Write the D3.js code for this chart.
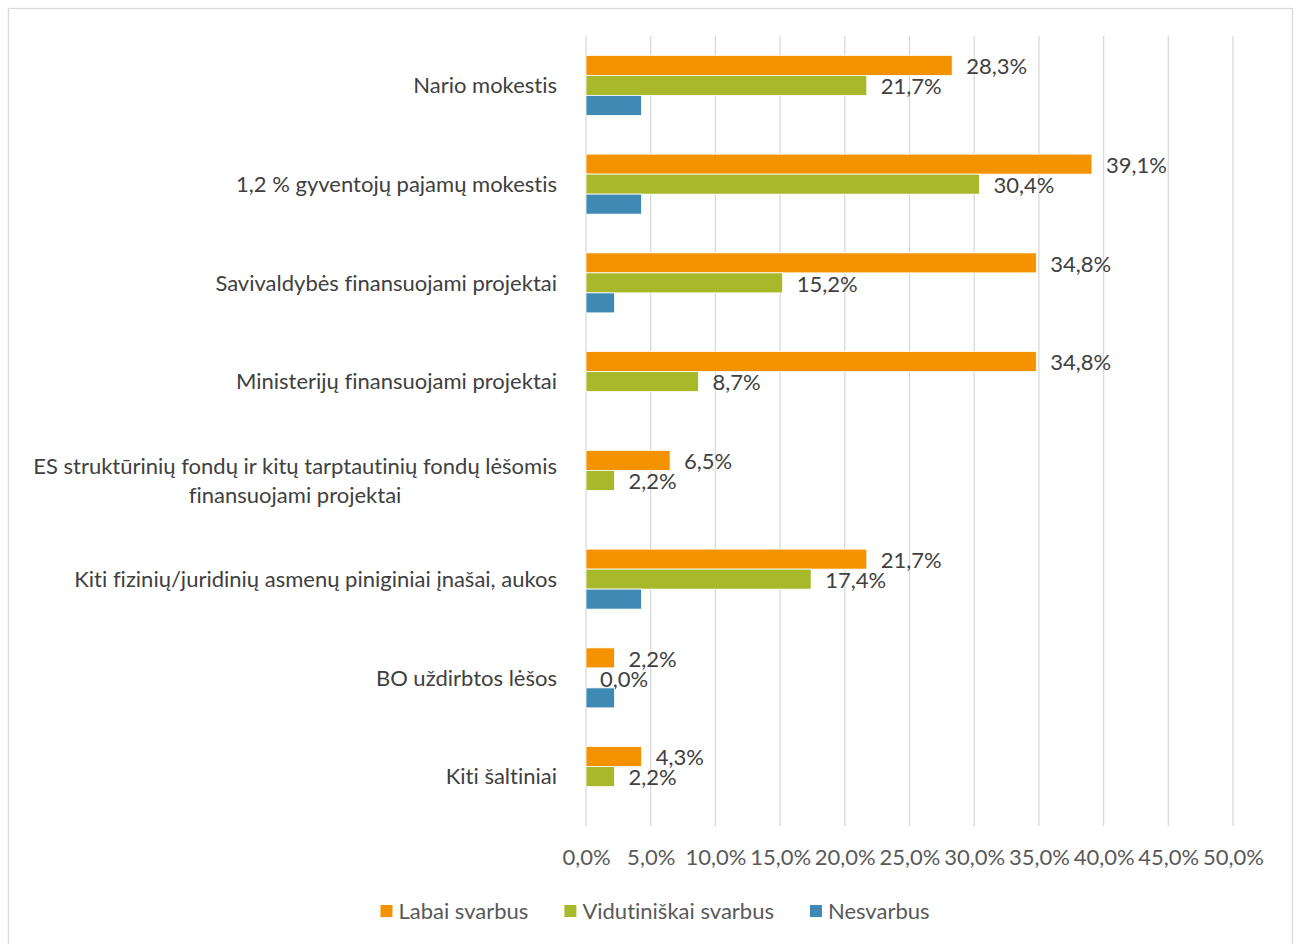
<!DOCTYPE html>
<html><head><meta charset="utf-8">
<script src="https://cdn.jsdelivr.net/npm/d3@7"></script>
<style>body{margin:0;background:#fff}svg{display:block}text{font-family:Lato,"Open Sans",sans-serif;font-variant-ligatures:none;font-feature-settings:"liga" 0,"clig" 0}</style>
</head><body><svg id="c" width="1299" height="944"></svg>
<script>
const categories = [
  "Nario mokestis",
  "1,2 % gyventojų pajamų mokestis",
  "Savivaldybės finansuojami projektai",
  "Ministerijų finansuojami projektai",
  "ES struktūrinių fondų ir kitų tarptautinių fondų lėšomis\nfinansuojami projektai",
  "Kiti fizinių/juridinių asmenų piniginiai įnašai, aukos",
  "BO uždirbtos lėšos",
  "Kiti šaltiniai"
];
const seriesNames = ["Labai svarbus", "Vidutiniškai svarbus", "Nesvarbus"];
const labaiSvarbus = [28.3, 39.1, 34.8, 34.8, 6.5, 21.7, 2.2, 4.3];
const vidutiniskaiSvarbus = [21.7, 30.4, 15.2, 8.7, 2.2, 17.4, 0.0, 2.2];
const nesvarbus = [4.3, 4.3, 2.2, null, null, 4.3, 2.2, null];
const xTicks = [0, 5, 10, 15, 20, 25, 30, 35, 40, 45, 50];
const colors = ["#F59200", "#A7B92B", "#3F89B5"];
const showLabels = [true, true, false];

const seriesValues = [labaiSvarbus, vidutiniskaiSvarbus, nesvarbus];
const svg = d3.select("#c");
const fmt = v => v.toFixed(1).replace(".", ",") + "%";
const FS = 22;

svg.append("rect").attr("x", 8.5).attr("y", 8.5).attr("width", 1284).attr("height", 980)
  .attr("fill", "#fff").attr("stroke", "#D9D9D9").attr("stroke-width", 1.3);

const x = d3.scaleLinear().domain([0, 50]).range([586, 1233]);
const y = d3.scaleBand().domain(categories).range([36, 826]);
const groupH = 60;
const ys = d3.scaleBand().domain(seriesNames).range([0, groupH]);

// grid
svg.append("g").selectAll("line").data(xTicks).join("line")
  .attr("x1", d => x(d)).attr("x2", d => x(d)).attr("y1", 36).attr("y2", 826)
  .attr("stroke", "#D9D9D9").attr("stroke-width", 1.3);

// axis labels
const xAxis = d3.axisBottom(x).tickValues(xTicks).tickSize(0).tickPadding(0).tickFormat(d => fmt(d));
const ax = svg.append("g").attr("transform", "translate(0,851)").call(xAxis);
ax.select(".domain").remove();
ax.selectAll("text").attr("font-size", FS).attr("fill", "#595959").attr("font-family", null).attr("dy", "0.62em");

// bars
seriesNames.forEach((s, si) => {
  const vals = seriesValues[si];
  const data = categories.map((c, i) => ({c, v: vals[i]})).filter(d => d.v !== null);
  const g = svg.append("g");
  g.selectAll("rect").data(data).join("rect")
    .attr("x", x(0))
    .attr("y", d => y(d.c) + (y.bandwidth() - groupH) / 2 + ys(s))
    .attr("width", d => x(d.v) - x(0))
    .attr("height", ys.bandwidth())
    .attr("fill", colors[si])
    .attr("stroke", "#fff").attr("stroke-width", 0.8);
  if (showLabels[si]) {
    g.selectAll("text").data(data).join("text")
      .attr("x", d => x(d.v) + 14)
      .attr("y", d => y(d.c) + (y.bandwidth() - groupH) / 2 + ys(s) + ys.bandwidth() / 2 + 1)
      .attr("dy", "0.35em")
      .attr("font-size", FS).attr("fill", "#404040")
      .text(d => fmt(d.v));
  }
});

// category labels
categories.forEach(c => {
  const lines = c.split("\n");
  const cy = y(c) + y.bandwidth() / 2;
  const lh = 29;
  const g = svg.append("g");
  const ts = lines.map((l, i) => g.append("text")
    .attr("y", cy + (i - (lines.length - 1) / 2) * lh)
    .attr("dy", "0.35em").attr("font-size", FS).attr("fill", "#404040")
    .attr("text-anchor", "middle").text(l));
  const w = d3.max(ts, t => t.node().getComputedTextLength());
  ts.forEach(t => t.attr("x", 557 - w / 2));
});

// legend
const lg = svg.append("g");
let items = seriesNames.map((s, i) => {
  const it = lg.append("g");
  it.append("rect").attr("width", 12).attr("height", 12).attr("y", -6).attr("fill", colors[i]);
  const t = it.append("text").attr("x", 18).attr("dy", "0.35em").attr("font-size", FS).attr("fill", "#595959").text(s);
  return {it, w: 18 + t.node().getComputedTextLength()};
});
const gap = 36;
const total = d3.sum(items, d => d.w) + gap * (items.length - 1);
let cx = 655 - total / 2;
items.forEach(d => { d.it.attr("transform", `translate(${cx},911)`); cx += d.w + gap; });
</script></body></html>
